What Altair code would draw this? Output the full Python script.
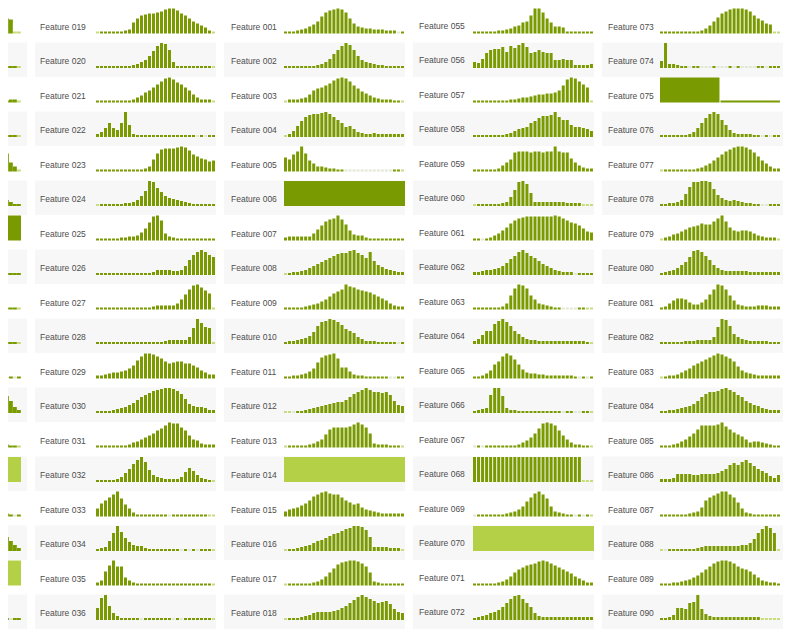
import altair as alt
import pandas as pd

# histogram heights per feature, 30 bins each (0 = empty bin, 1 = pale tail bin)
# column A is cut by the screenshot: only the last 5 bins of each row are kept
col_a_names = ["Feature %03d" % i for i in range(37, 55)]
col_a_counts = [
    [17, 15, 14, 1, 1], [2, 2, 2, 2, 1], [2, 2, 3, 3, 1], [2, 2, 2, 2, 1],
    [20, 18, 9, 5, 1], [6, 6, 4, 2, 2], [25], [2, 2, 2, 2, 2], [2, 2, 2, 2, 1],
    [2, 2, 2, 2, 1], [2, 0, 2, 0, 2], [20, 17, 12, 6, 3], [4, 3, 2, 2, 1], [25],
    [3, 3, 2, 0, 2], [18, 14, 10, 6, 3], [25], [2, 2, 0, 2, 2],
]

col_b_names = ["Feature %03d" % i for i in range(19, 37)]
col_b_counts = [
    [1, 2, 2, 2, 2, 2, 2, 3, 4, 11, 15, 18, 19, 20, 20, 21, 22, 24, 25, 25, 23, 20, 18, 15, 12, 10, 8, 6, 3, 1],
    [2, 2, 2, 2, 2, 2, 2, 2, 2, 3, 4, 6, 8, 12, 17, 22, 25, 24, 18, 6, 2, 2, 2, 2, 2, 2, 2, 2, 2, 1],
    [2, 2, 2, 2, 2, 2, 2, 2, 2, 3, 5, 7, 10, 12, 15, 18, 21, 24, 25, 23, 20, 18, 15, 12, 8, 5, 3, 3, 3, 1],
    [3, 5, 9, 14, 9, 7, 14, 25, 12, 3, 2, 2, 2, 2, 2, 2, 2, 2, 2, 2, 2, 2, 2, 2, 2, 0, 2, 0, 2, 2],
    [2, 2, 2, 2, 2, 2, 2, 2, 2, 2, 2, 2, 3, 5, 12, 18, 22, 23, 23, 23, 24, 25, 24, 21, 17, 15, 13, 12, 10, 11],
    [1, 2, 2, 2, 2, 2, 2, 3, 3, 4, 6, 10, 15, 25, 24, 18, 14, 10, 8, 7, 6, 5, 4, 3, 2, 2, 2, 2, 2, 2],
    [2, 2, 2, 2, 2, 2, 3, 3, 4, 4, 5, 8, 12, 18, 24, 25, 20, 7, 4, 3, 2, 2, 2, 2, 2, 2, 2, 2, 2, 2],
    [2, 2, 2, 2, 2, 2, 2, 2, 2, 2, 2, 2, 2, 2, 3, 5, 5, 5, 5, 4, 4, 5, 9, 15, 20, 23, 25, 23, 20, 18],
    [2, 2, 2, 2, 2, 2, 2, 2, 2, 2, 2, 2, 2, 2, 3, 4, 4, 4, 4, 4, 6, 10, 15, 20, 24, 25, 22, 19, 16, 1],
    [2, 2, 2, 2, 2, 2, 2, 2, 2, 2, 2, 2, 2, 2, 2, 2, 2, 3, 4, 4, 4, 4, 4, 7, 16, 25, 21, 17, 16, 1],
    [3, 3, 4, 5, 6, 6, 7, 8, 10, 13, 18, 22, 25, 25, 24, 22, 20, 17, 15, 16, 17, 17, 15, 15, 13, 11, 8, 6, 4, 4],
    [2, 2, 2, 2, 3, 4, 5, 6, 8, 10, 13, 16, 18, 20, 22, 23, 24, 25, 25, 24, 22, 19, 14, 9, 7, 6, 6, 5, 3, 3],
    [2, 2, 2, 2, 2, 2, 2, 2, 3, 5, 6, 8, 10, 12, 14, 17, 19, 22, 25, 24, 24, 20, 17, 12, 8, 7, 4, 3, 3, 3],
    [2, 2, 2, 2, 2, 3, 5, 9, 13, 18, 22, 25, 20, 12, 7, 5, 4, 3, 3, 3, 3, 5, 10, 14, 11, 7, 4, 3, 2, 1],
    [8, 13, 16, 19, 22, 25, 18, 12, 8, 4, 2, 2, 2, 2, 2, 2, 2, 2, 0, 2, 2, 2, 2, 2, 2, 2, 2, 2, 1, 1],
    [2, 3, 4, 10, 18, 25, 19, 13, 9, 6, 5, 5, 3, 2, 2, 2, 2, 2, 2, 2, 2, 0, 2, 0, 2, 0, 2, 2, 2, 1],
    [3, 5, 14, 20, 25, 19, 19, 8, 5, 3, 2, 2, 2, 2, 2, 2, 2, 2, 2, 2, 2, 2, 2, 2, 2, 2, 2, 2, 2, 1],
    [12, 22, 25, 14, 7, 4, 2, 2, 2, 2, 2, 0, 2, 2, 2, 2, 2, 2, 2, 0, 2, 0, 2, 2, 2, 2, 2, 2, 2, 1],
]

col_c_names = ["Feature %03d" % i for i in range(1, 19)]
col_c_counts = [
    [2, 2, 2, 3, 4, 5, 7, 9, 12, 17, 21, 23, 24, 25, 24, 21, 15, 10, 7, 6, 5, 5, 4, 4, 4, 3, 3, 3, 0, 2],
    [2, 2, 2, 2, 2, 2, 2, 2, 3, 4, 6, 9, 14, 18, 22, 25, 23, 18, 12, 8, 6, 5, 4, 3, 3, 2, 2, 2, 2, 2],
    [1, 3, 3, 3, 4, 5, 8, 12, 14, 15, 17, 19, 22, 24, 25, 24, 21, 17, 14, 11, 9, 7, 5, 4, 3, 3, 3, 2, 2, 1],
    [1, 3, 6, 11, 16, 20, 22, 23, 23, 24, 25, 23, 20, 17, 14, 10, 11, 8, 5, 4, 3, 3, 4, 3, 3, 3, 3, 3, 3, 3],
    [14, 12, 17, 20, 25, 18, 11, 8, 5, 5, 4, 3, 3, 2, 2, 0, 0, 0, 0, 0, 0, 0, 0, 0, 0, 0, 0, 2, 2, 1],
    [25],
    [3, 4, 4, 4, 4, 4, 4, 7, 11, 15, 19, 21, 22, 25, 21, 16, 10, 6, 5, 5, 3, 2, 2, 2, 2, 2, 2, 2, 2, 2],
    [1, 2, 3, 3, 4, 5, 7, 9, 11, 13, 15, 17, 19, 21, 22, 22, 24, 25, 22, 20, 17, 23, 14, 10, 8, 6, 5, 4, 3, 3],
    [2, 2, 2, 2, 2, 3, 4, 5, 6, 8, 10, 13, 16, 18, 20, 25, 23, 22, 20, 19, 18, 17, 15, 13, 11, 9, 6, 4, 3, 3],
    [2, 3, 3, 4, 5, 6, 8, 12, 18, 22, 23, 25, 24, 22, 19, 15, 13, 11, 7, 5, 3, 3, 3, 2, 2, 2, 2, 2, 0, 2],
    [2, 2, 3, 3, 4, 5, 7, 10, 16, 21, 23, 24, 25, 20, 11, 11, 7, 4, 3, 3, 2, 2, 2, 2, 2, 2, 0, 0, 2, 2],
    [1, 1, 0, 2, 2, 3, 4, 5, 6, 7, 8, 9, 10, 11, 11, 13, 16, 19, 21, 23, 25, 23, 21, 21, 20, 21, 18, 12, 8, 7],
    [1, 2, 2, 2, 2, 2, 3, 4, 6, 8, 13, 18, 20, 20, 20, 20, 21, 23, 25, 23, 20, 14, 4, 3, 3, 3, 2, 2, 2, 1],
    [25],
    [5, 7, 8, 9, 11, 13, 16, 20, 22, 24, 25, 23, 22, 22, 19, 16, 14, 12, 13, 9, 7, 6, 5, 4, 3, 3, 3, 3, 3, 3],
    [1, 2, 2, 3, 4, 5, 6, 8, 10, 11, 13, 15, 17, 18, 20, 22, 23, 25, 25, 24, 21, 14, 4, 4, 4, 4, 3, 3, 3, 1],
    [1, 2, 2, 2, 2, 2, 2, 3, 4, 6, 9, 13, 17, 21, 23, 24, 25, 25, 24, 22, 19, 13, 4, 3, 2, 2, 2, 2, 2, 2],
    [1, 2, 2, 2, 3, 4, 5, 7, 8, 8, 8, 8, 9, 10, 12, 14, 17, 20, 23, 25, 23, 21, 19, 17, 18, 19, 16, 11, 8, 7],
]

col_d_names = ["Feature %03d" % i for i in range(55, 73)]
col_d_counts = [
    [2, 2, 2, 2, 2, 2, 3, 3, 4, 5, 7, 8, 11, 12, 18, 25, 25, 21, 15, 11, 7, 7, 6, 2, 2, 2, 2, 2, 2, 2],
    [6, 5, 9, 15, 18, 19, 19, 21, 16, 22, 20, 23, 25, 21, 15, 16, 18, 16, 15, 15, 8, 8, 9, 8, 8, 3, 3, 3, 3, 4],
    [2, 2, 2, 2, 2, 2, 2, 2, 2, 3, 3, 4, 5, 5, 6, 7, 8, 8, 9, 9, 10, 12, 17, 23, 25, 24, 21, 18, 15, 1],
    [2, 2, 2, 2, 2, 2, 2, 2, 3, 4, 6, 8, 9, 10, 14, 16, 19, 21, 21, 22, 25, 20, 17, 17, 12, 10, 10, 9, 8, 6],
    [2, 2, 2, 2, 2, 2, 3, 6, 9, 12, 19, 20, 20, 20, 19, 20, 20, 19, 20, 20, 25, 20, 19, 19, 13, 9, 6, 4, 3, 3],
    [1, 2, 2, 2, 2, 2, 2, 3, 4, 9, 16, 24, 25, 22, 13, 4, 4, 4, 4, 4, 4, 4, 4, 3, 3, 3, 3, 1, 1, 1],
    [2, 2, 0, 2, 3, 5, 7, 10, 13, 17, 20, 22, 23, 24, 24, 24, 24, 24, 24, 24, 25, 24, 22, 20, 18, 17, 15, 12, 9, 8],
    [3, 3, 4, 5, 5, 6, 7, 9, 12, 16, 19, 23, 25, 22, 19, 17, 14, 11, 9, 7, 5, 4, 3, 3, 3, 0, 2, 2, 2, 2],
    [2, 2, 2, 2, 2, 2, 2, 3, 6, 14, 21, 25, 24, 21, 14, 10, 6, 5, 4, 3, 2, 2, 0, 0, 0, 0, 2, 2, 1, 1],
    [3, 5, 9, 13, 13, 20, 23, 25, 22, 18, 13, 10, 7, 5, 4, 4, 3, 3, 3, 3, 3, 3, 3, 3, 3, 3, 3, 3, 2, 1],
    [2, 2, 3, 5, 8, 14, 17, 22, 25, 23, 19, 14, 9, 6, 5, 5, 4, 4, 3, 3, 3, 3, 3, 3, 3, 2, 0, 2, 0, 2],
    [2, 3, 4, 5, 18, 25, 25, 17, 5, 3, 3, 2, 2, 2, 2, 2, 2, 2, 2, 2, 2, 2, 0, 2, 2, 0, 0, 2, 2, 1],
    [0, 2, 0, 2, 2, 2, 2, 2, 2, 2, 2, 3, 5, 7, 10, 14, 19, 24, 25, 24, 22, 17, 12, 8, 5, 3, 3, 2, 2, 1],
    [25, 25, 25, 25, 25, 25, 25, 25, 25, 25, 25, 25, 25, 25, 25, 25, 25, 25, 25, 25, 25, 25, 25, 25, 25, 25, 25, 1, 1, 1],
    [0, 2, 2, 2, 2, 2, 2, 2, 3, 4, 5, 7, 10, 15, 19, 23, 25, 22, 18, 10, 5, 4, 3, 2, 2, 0, 2, 0, 2, 1],
    [25],
    [2, 2, 2, 2, 2, 2, 3, 4, 6, 9, 13, 16, 18, 20, 21, 22, 24, 25, 24, 22, 20, 18, 16, 14, 12, 9, 7, 5, 3, 3],
    [2, 3, 4, 5, 7, 8, 10, 13, 17, 21, 24, 25, 21, 17, 13, 7, 4, 3, 3, 3, 3, 3, 3, 3, 3, 3, 3, 3, 3, 3],
]

col_e_names = ["Feature %03d" % i for i in range(73, 91)]
col_e_counts = [
    [2, 2, 2, 2, 2, 2, 2, 2, 2, 2, 3, 5, 8, 12, 16, 20, 22, 24, 25, 25, 25, 24, 22, 18, 15, 13, 10, 9, 1, 1],
    [7, 25, 4, 4, 3, 2, 2, 0, 2, 2, 0, 0, 0, 2, 0, 0, 0, 2, 0, 2, 0, 0, 0, 0, 2, 2, 0, 2, 2, 2],
    [25, 2],
    [2, 2, 2, 2, 2, 2, 2, 3, 5, 9, 14, 19, 23, 25, 23, 17, 12, 7, 4, 3, 3, 3, 3, 2, 2, 0, 2, 0, 2, 2],
    [1, 2, 2, 2, 2, 2, 2, 2, 2, 3, 4, 6, 8, 11, 14, 17, 20, 22, 24, 25, 25, 24, 22, 19, 15, 11, 8, 5, 3, 3],
    [2, 2, 3, 3, 4, 6, 12, 19, 24, 24, 25, 25, 24, 17, 11, 8, 6, 5, 6, 5, 4, 3, 3, 2, 2, 0, 0, 2, 2, 2],
    [1, 3, 4, 6, 7, 9, 11, 13, 14, 15, 17, 16, 16, 19, 22, 25, 19, 13, 10, 9, 10, 10, 9, 7, 5, 4, 3, 3, 3, 1],
    [2, 3, 4, 5, 7, 10, 13, 18, 24, 25, 23, 19, 15, 10, 7, 5, 4, 4, 4, 4, 4, 4, 3, 3, 3, 3, 3, 3, 3, 3],
    [2, 3, 6, 9, 11, 11, 10, 7, 5, 5, 7, 10, 15, 20, 25, 24, 20, 14, 9, 5, 4, 3, 3, 3, 4, 4, 4, 3, 3, 3],
    [2, 2, 2, 2, 2, 2, 3, 3, 3, 4, 4, 4, 4, 7, 17, 25, 24, 18, 10, 7, 5, 4, 3, 3, 3, 3, 3, 2, 2, 2],
    [1, 2, 3, 3, 4, 6, 8, 10, 13, 15, 17, 19, 21, 23, 25, 24, 22, 20, 17, 12, 8, 6, 5, 4, 3, 3, 3, 3, 3, 3],
    [2, 2, 3, 3, 4, 5, 6, 7, 9, 12, 16, 19, 21, 21, 22, 24, 25, 23, 21, 18, 16, 12, 10, 8, 7, 5, 4, 3, 3, 3],
    [2, 2, 2, 3, 4, 6, 8, 11, 14, 18, 22, 22, 22, 22, 23, 25, 21, 18, 15, 13, 11, 8, 5, 6, 6, 5, 4, 3, 2, 2],
    [3, 3, 3, 4, 8, 8, 8, 8, 7, 7, 8, 8, 8, 8, 9, 11, 13, 17, 19, 17, 20, 22, 19, 16, 13, 11, 9, 6, 4, 7],
    [2, 2, 2, 2, 2, 2, 2, 3, 4, 5, 9, 16, 19, 21, 23, 25, 25, 22, 19, 14, 8, 4, 3, 2, 2, 2, 2, 2, 2, 2],
    [1, 0, 2, 2, 2, 2, 2, 2, 2, 3, 4, 5, 5, 5, 5, 5, 5, 5, 5, 5, 6, 6, 8, 12, 18, 22, 25, 23, 18, 1],
    [2, 2, 2, 3, 3, 4, 5, 6, 8, 10, 13, 16, 19, 22, 24, 25, 25, 24, 22, 19, 17, 16, 14, 11, 8, 5, 4, 3, 3, 2],
    [2, 2, 3, 5, 12, 12, 11, 17, 18, 25, 11, 6, 4, 3, 3, 3, 3, 3, 3, 3, 3, 3, 3, 3, 3, 1, 1, 1, 1, 1],
]

# features drawn as one flat light-green block
light_blocks = ["Feature 014", "Feature 070", "Feature 050", "Feature 053"]

tones = ["dark", "pale", "empty", "block"]
tone_colors = ["#7a9a01", "#c7dc7e", "#e2e7d6", "#b3d046"]

ROW_H = 34.5   # one table row
BASE = 25.5    # bar baseline, measured from the top of the row
N_ROWS = 18


def make_frame(names, counts):
    rows = []
    for r, (name, vals) in enumerate(zip(names, counts)):
        for b, v in enumerate(vals):
            if name in light_blocks:
                tone = "block"
            elif v == 0:
                tone = "empty"
            elif v == 1:
                tone = "pale"
            else:
                tone = "dark"
            rows.append({"feature": name, "row": r, "bin": b, "nbins": len(vals),
                         "count": max(v, 2), "tone": tone,
                         "shade": "gray" if r % 2 else "white"})
    return pd.DataFrame(rows)


def column(names, counts, width, bar_range, label_x=6, label_y=18.5, labels=True):
    df = make_frame(names, counts)
    yscale = alt.Scale(domain=[0, N_ROWS * ROW_H], reverse=True, nice=False, zero=False)
    base = alt.Chart(df)

    bg = base.transform_filter(
        "datum.bin == 0 && datum.shade == 'gray'"
    ).transform_calculate(
        y0=f"datum.row * {ROW_H}", y1=f"(datum.row + 1) * {ROW_H}"
    ).mark_rect(fill="#f7f7f7").encode(
        x=alt.value(0), x2=alt.value(width),
        y=alt.Y("y0:Q", scale=yscale, axis=None), y2="y1:Q")

    bars = base.transform_calculate(
        x0="datum.bin / datum.nbins",
        x1="(datum.bin + 1) / datum.nbins - (datum.nbins > 1 ? 0.0085 : 0)",
        y0=f"datum.row * {ROW_H} + {BASE} - datum.count",
        y1=f"datum.row * {ROW_H} + {BASE}",
    ).mark_rect(clip=True).encode(
        x=alt.X("x0:Q", axis=None,
                scale=alt.Scale(domain=[0, 1], range=bar_range, nice=False, zero=False)),
        x2="x1:Q",
        y=alt.Y("y0:Q", scale=yscale, axis=None), y2="y1:Q",
        color=alt.Color("tone:N", scale=alt.Scale(domain=tones, range=tone_colors), legend=None),
    )
    layers = [bg, bars]
    if labels:
        txt = base.transform_filter("datum.bin == 0").transform_calculate(
            ty=f"datum.row * {ROW_H} + {label_y}"
        ).mark_text(
            align="left", baseline="middle", font="Liberation Sans", fontSize=8.5,
            color="#4d4d4d").encode(
            x=alt.value(label_x), y=alt.Y("ty:Q", scale=yscale, axis=None),
            text="feature:N")
        layers.append(txt)
    return alt.layer(*layers).properties(width=width, height=N_ROWS * ROW_H)


col_a = column(col_a_names, col_a_counts, 19, [-7, 13], labels=False)
col_b = column(col_b_names, col_b_counts, 181, [61, 181], label_x=5)
col_c = column(col_c_names, col_c_counts, 181, [60, 181], label_x=7)
col_d = column(col_d_names, col_d_counts, 181, [60, 181], label_y=17.5)
col_e = column(col_e_names, col_e_counts, 181, [58, 179])

chart = alt.hconcat(col_a, col_b, col_c, col_d, col_e, spacing=8).properties(
    padding=0, background="white"
).configure_view(strokeWidth=0)

chart.save("out.html", embed_options={"renderer": "svg", "actions": False})
